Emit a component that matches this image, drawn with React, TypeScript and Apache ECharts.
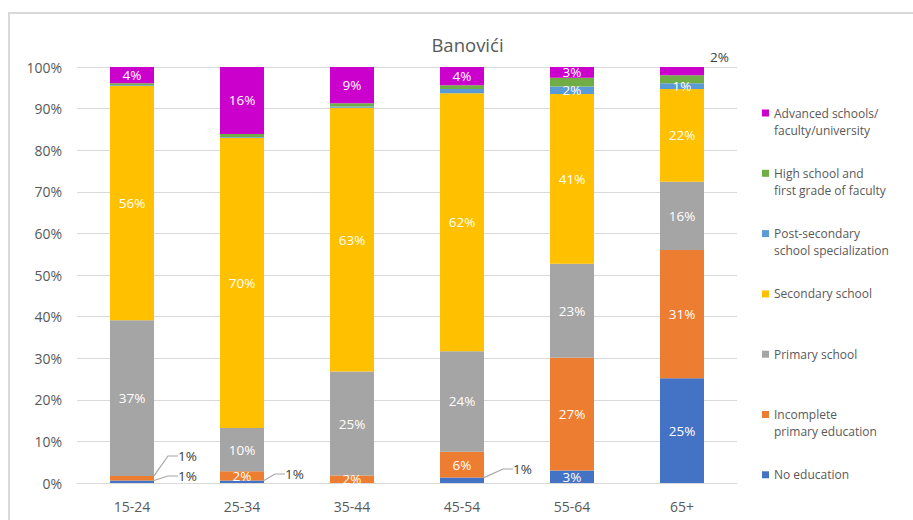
import { useEffect, useRef } from 'react';
import * as echarts from 'echarts';

// Share of each education level within an age group (percent of group)
const categories = ['15-24', '25-34', '35-44', '45-54', '55-64', '65+'];

const noEducation = [0.6, 0.6, 0, 1.3, 3.0, 25.2];
const incompletePrimary = [1.1, 2.2, 1.8, 6.2, 27.1, 30.8];
const primarySchool = [37.4, 10.4, 25.0, 24.2, 22.6, 16.4];
const secondarySchool = [56.4, 69.8, 63.4, 62.0, 40.8, 22.3];
const postSecondary = [0.2, 0.2, 0.3, 1.0, 1.8, 1.4];
const highSchool = [0.4, 0.7, 0.8, 0.9, 2.1, 1.9];
const advancedSchools = [3.9, 16.1, 8.7, 4.4, 2.6, 2.0];

const Y_MIN = 0;
const Y_MAX = 100;
const Y_STEP = 10;

const FONT = '"Open Sans", "Noto Sans", sans-serif';
const TEXT_GREY = '#595959';

const ALL = [true, true, true, true, true, true];

const seriesDefs = [
  { name: 'No education', legend: ['No education'], data: noEducation, color: '#4472C4', labels: [true, true, false, true, true, true] },
  { name: 'Incomplete primary education', legend: ['Incomplete', 'primary education'], data: incompletePrimary, color: '#ED7D31', labels: ALL },
  { name: 'Primary school', legend: ['Primary school'], data: primarySchool, color: '#A5A5A5', labels: ALL },
  { name: 'Secondary school', legend: ['Secondary school'], data: secondarySchool, color: '#FFC000', labels: ALL },
  { name: 'Post-secondary school specialization', legend: ['Post-secondary', 'school specialization'], data: postSecondary, color: '#5B9BD5', labels: [false, false, false, false, true, true] },
  { name: 'High school and first grade of faculty', legend: ['High school and', 'first grade of faculty'], data: highSchool, color: '#70AD47', labels: [false, false, false, false, false, false] },
  { name: 'Advanced schools/faculty/university', legend: ['Advanced schools/', 'faculty/university'], data: advancedSchools, color: '#CC00CC', labels: ALL },
];

// Labels of slivers too thin to hold text are pulled out beside the bar,
// keyed by "seriesIndex-categoryIndex". dx is measured from the bar's right
// edge, dy from the segment's bottom (or top when fromTop is set).
type Callout = { dx: number; dy: number; fromTop?: boolean; line: boolean };
const callouts: Record<string, Callout> = {
  '0-0': { dx: 18, dy: -7, line: true },
  '1-0': { dx: 18, dy: -24.5, line: true },
  '0-1': { dx: 15, dy: -9, line: true },
  '0-3': { dx: 23, dy: -14, line: true },
  '6-5': { dx: 6, dy: -10, fromTop: true, line: false },
};

export default function App() {
  const ref = useRef<HTMLDivElement>(null);

  useEffect(() => {
    if (!ref.current) return;
    const chart = echarts.init(ref.current, null, { renderer: 'svg' });

    const series = seriesDefs.map((def, si) => ({
      name: def.name,
      type: 'bar',
      stack: 'total',
      barWidth: 44,
      itemStyle: { color: def.color },
      label: {
        show: true,
        position: 'inside',
        fontFamily: FONT,
        fontSize: 13.5,
        formatter: (p: any) => `${Math.round(p.value)}%`,
      },
      labelLayout: (p: any) => {
        const c = callouts[`${si}-${p.dataIndex}`];
        if (!c) return {};
        const r = p.rect;
        return {
          x: r.x + r.width + c.dx,
          y: (c.fromTop ? r.y : r.y + r.height) + c.dy,
          align: 'left',
          verticalAlign: 'middle',
        };
      },
      data: def.data.map((v, i) => {
        const c = callouts[`${si}-${i}`];
        return {
          value: v,
          label: {
            show: def.labels[i],
            color: c ? '#404040' : '#ffffff',
            padding: c && c.line ? [0, 0, 0, 6] : 0,
          },
          labelLine: {
            show: !!(c && c.line),
            length2: 10,
            lineStyle: { color: '#A6A6A6', width: 1.2 },
          },
        };
      }),
    }));

    // Every legend entry is laid out as two lines so the entries are evenly spaced;
    // the top padding lets the first line sit level with the colour square.
    const legendText: Record<string, string> = {};
    seriesDefs.forEach((d) => {
      const lines = d.legend.length > 1 ? d.legend : [d.legend[0], ' '];
      legendText[d.name] = lines.map((l) => `{t|${l}}`).join('\n');
    });

    chart.setOption({
      animation: false,
      backgroundColor: '#ffffff',
      title: {
        text: 'Banovići',
        left: 467.5,
        top: 33,
        textAlign: 'center',
        padding: 0,
        textStyle: { color: TEXT_GREY, fontSize: 18.5, fontWeight: 'normal', fontFamily: FONT, lineHeight: 23 },
      },
      graphic: [
        {
          type: 'rect',
          shape: { x: 9, y: 13, width: 1000, height: 700 },
          style: { fill: 'none', stroke: '#D9D9D9', lineWidth: 2 },
          silent: true,
          z: -1,
        },
      ],
      grid: { left: 77, right: 176, top: 67, bottom: 37, containLabel: false },
      legend: {
        orient: 'vertical',
        left: 762,
        top: 87.5,
        padding: 0,
        itemWidth: 7,
        itemHeight: 7,
        itemGap: 9.3,
        icon: 'rect',
        selectedMode: false,
        data: [...seriesDefs].reverse().map((d) => d.name),
        formatter: (name: string) => legendText[name],
        textStyle: {
          color: TEXT_GREY,
          fontSize: 12,
          fontFamily: FONT,
          lineHeight: 17,
          padding: [17, 0, 0, 0],
          rich: {
            t: { color: TEXT_GREY, fontSize: 12, fontFamily: FONT, lineHeight: 17 },
          },
        },
      },
      xAxis: {
        type: 'category',
        data: categories,
        axisLine: { show: true, lineStyle: { color: '#D9D9D9', width: 1 } },
        axisTick: { show: false },
        axisLabel: { color: TEXT_GREY, fontSize: 14, fontFamily: FONT, margin: 16 },
      },
      yAxis: {
        type: 'value',
        min: Y_MIN,
        max: Y_MAX,
        interval: Y_STEP,
        axisLine: { show: false },
        axisTick: { show: false },
        splitLine: { lineStyle: { color: '#D9D9D9', width: 1 } },
        axisLabel: {
          color: TEXT_GREY,
          fontSize: 14,
          fontFamily: FONT,
          margin: 15,
          formatter: (v: number) => `${v}%`,
        },
      },
      series,
    });

    return () => chart.dispose();
  }, []);

  return (
    <div
      ref={ref}
      style={{ position: 'fixed', left: 0, top: 0, width: 913, height: 520, background: '#fff' }}
    />
  );
}
